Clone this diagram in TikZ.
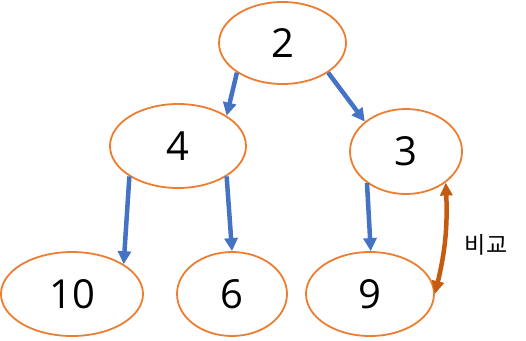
\documentclass[tikz,border=0pt]{standalone}
\usepackage{fontspec}
\setmainfont{Open Sans}
\newfontfamily\krfont{Noto Sans CJK KR}
\usetikzlibrary{shapes.geometric,arrows.meta}
\definecolor{nodeorange}{HTML}{ED7D31}
\definecolor{edgeblue}{HTML}{4472C4}
\definecolor{cmpbrown}{HTML}{C55A11}
\tikzset{
  treenode/.style={ellipse, draw=nodeorange, line width=1.8pt, fill=white, inner sep=0pt,
    font=\fontsize{40}{48}\selectfont},
  treeedge/.style={draw=edgeblue, line width=4.5pt, -{Triangle[length=13pt,width=13pt]}},
  cmpedge/.style={draw=cmpbrown, line width=4.5pt, {Triangle[length=13pt,width=12pt]}-{Triangle[length=13pt,width=12pt]}}
}
\begin{document}
\begin{tikzpicture}[x=1pt,y=1pt]
\useasboundingbox (0,0) rectangle (526,-340);
\node[treenode, minimum width=127pt, minimum height=82pt] (n2) at (282.5,-43) {2};
\node[treenode, minimum width=136pt, minimum height=84pt] (n4) at (178,-146) {4};
\node[treenode, minimum width=112pt, minimum height=85pt] (n3) at (406,-151.5) {3};
\node[treenode, minimum width=142pt, minimum height=84pt] (n10) at (72,-294) {10};
\node[treenode, minimum width=110pt, minimum height=84pt] (n6) at (232,-294) {6};
\node[treenode, minimum width=128pt, minimum height=84pt] (n9) at (370,-294) {9};
\draw[treeedge] (n2.213) -- (n4.32);
\draw[treeedge] (n2.327) -- (n3.144);
\draw[treeedge] (n4.212) -- (n10.30);
\draw[treeedge] (n4.328) -- (n6.90);
\draw[treeedge] (n3.219) -- (n9.89);
\draw[cmpedge] (n3.322) to[bend left=8] (n9.0);
\node[font=\krfont\fontsize{23}{28}\selectfont] (lbl) at (486,-245) {비교};
\end{tikzpicture}
\end{document}
